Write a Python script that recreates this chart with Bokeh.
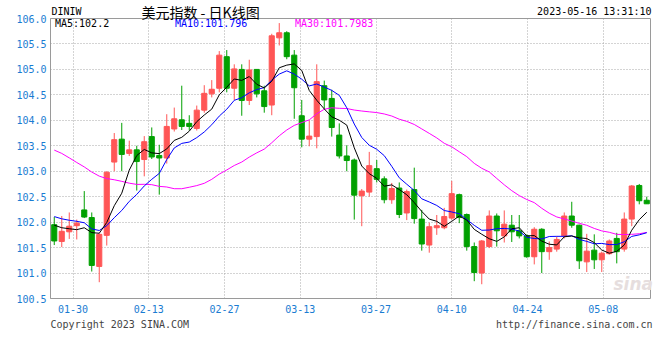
import pandas as pd
from bokeh.plotting import figure
from bokeh.models import Range1d, FixedTicker, Label, ColumnDataSource, LinearAxis
from bokeh.core.properties import value
from bokeh.embed import file_html
from bokeh.resources import INLINE

# ---------------- data ----------------
x_tick_labels = ["01-30", "02-13", "02-27", "03-13", "03-27", "04-10", "04-24", "05-08"]
y_tick_values = [100.5, 101.0, 101.5, 102.0, 102.5, 103.0, 103.5, 104.0, 104.5, 105.0, 105.5, 106.0]
y_tick_labels = ["100.5", "101.0", "101.5", "102.0", "102.5", "103.0", "103.5", "104.0",
                 "104.5", "105.0", "105.5", "106.0"]

open_ = [101.95, 101.62, 101.81, 101.93, 102.24, 102.09, 101.13, 101.74, 103.18, 103.63,
         103.35, 103.42, 103.23, 103.68, 103.31, 103.26, 103.83, 104.01, 103.94, 103.84,
         104.20, 104.52, 104.63, 105.25, 104.63, 105.00, 104.39, 105.00, 104.58, 104.30,
         105.62, 105.72, 105.28, 104.09, 103.63, 103.68, 104.68, 104.43, 103.71, 103.30,
         103.22, 102.52, 102.59, 103.05, 102.85, 102.44, 102.67, 102.18, 102.64, 102.06,
         101.55, 101.89, 101.89, 102.08, 102.54, 102.15, 101.52, 101.00, 101.52, 102.12,
         101.73, 101.94, 101.83, 101.73, 101.32, 101.86, 101.42, 101.47, 101.73, 102.12,
         101.94, 101.22, 101.45, 101.26, 101.38, 101.68, 101.47, 102.06, 102.72, 102.43]
high = [102.10, 102.12, 102.19, 102.05, 102.61, 102.19, 101.78, 103.00, 103.75, 103.95,
        103.60, 103.50, 103.69, 103.86, 103.52, 104.12, 104.25, 104.68, 104.10, 104.29,
        104.69, 104.79, 105.36, 105.38, 105.10, 105.10, 105.19, 105.00, 104.68, 105.70,
        105.91, 105.75, 105.38, 104.40, 104.00, 105.10, 104.78, 104.60, 103.94, 103.51,
        103.25, 102.65, 103.38, 103.22, 102.90, 102.77, 102.78, 102.64, 103.07, 102.24,
        101.99, 102.14, 102.28, 102.81, 102.56, 102.17, 101.60, 101.65, 102.23, 102.17,
        102.23, 102.14, 102.14, 101.76, 101.90, 101.88, 101.62, 101.72, 102.19, 102.40,
        101.95, 101.77, 101.76, 101.42, 101.66, 101.79, 102.19, 102.73, 102.75, 102.50]
low = [101.55, 101.51, 101.67, 101.66, 102.08, 101.03, 100.82, 101.54, 103.00, 103.00,
       103.30, 102.62, 102.90, 103.24, 102.54, 103.15, 103.78, 103.81, 103.80, 103.80,
       104.15, 104.45, 104.55, 104.55, 104.40, 104.09, 104.30, 104.45, 104.15, 104.10,
       105.47, 105.20, 104.03, 103.47, 103.49, 103.45, 104.22, 103.68, 103.25, 103.00,
       102.05, 101.92, 102.50, 102.78, 102.37, 102.36, 102.08, 102.04, 101.97, 101.44,
       101.40, 101.75, 101.86, 102.05, 101.98, 101.44, 100.84, 100.78, 101.49, 101.52,
       101.60, 101.61, 101.68, 101.30, 101.17, 101.00, 101.26, 101.42, 101.68, 101.89,
       101.08, 101.02, 101.08, 101.02, 101.36, 101.19, 101.42, 101.92, 102.35, 102.36]
close = [101.63, 101.82, 101.92, 101.98, 102.10, 101.15, 101.76, 102.98, 103.62, 103.33,
         103.42, 103.19, 103.58, 103.28, 103.26, 103.88, 104.03, 103.88, 103.88, 104.20,
         104.53, 104.61, 105.28, 104.63, 105.01, 104.39, 104.99, 104.52, 104.27, 105.66,
         105.72, 105.25, 104.64, 103.63, 103.69, 104.76, 104.40, 103.86, 103.30, 103.21,
         102.53, 102.61, 103.11, 102.84, 102.44, 102.66, 102.15, 102.60, 102.07, 101.57,
         101.91, 101.93, 102.11, 102.56, 102.09, 101.52, 101.01, 101.63, 102.12, 101.83,
         101.96, 101.81, 101.73, 101.32, 101.86, 101.42, 101.50, 101.66, 102.12, 101.94,
         101.24, 101.43, 101.26, 101.39, 101.63, 101.42, 102.06, 102.71, 102.42, 102.36]
# closes before the visible window (estimated from where the MA lines start)
prior_close = [103.77, 104.55, 104.70, 104.71, 104.16, 104.19, 104.42, 104.31, 104.27, 104.49,
               103.92, 103.52, 103.49, 104.26, 104.25, 105.04, 103.89, 103.01, 103.23, 103.18,
               102.26, 102.20, 102.19, 102.38, 102.36, 102.07, 102.02, 102.07, 101.91]

ma_texts = ["MA5:102.2", "MA10:101.796", "MA30:101.7983"]
header_texts = ["DINIW", "美元指数 - 日K线图", "2023-05-16 13:31:10"]
footer_texts = ["Copyright 2023 SINA.COM", "http://finance.sina.com.cn"]

# ---------------- derived ----------------
n = len(close)
idx = list(range(n))
allc = pd.Series(prior_close + close)
ma5 = allc.rolling(5).mean().iloc[-n:].tolist()
ma10 = allc.rolling(10).mean().iloc[-n:].tolist()
ma30 = allc.rolling(30).mean().iloc[-n:].tolist()

RED = "#ff5656"
GREEN = "#00a000"
colors = [RED if c >= o else GREEN for o, c in zip(open_, close)]
src = ColumnDataSource(dict(
    x=idx, o=open_, h=high, l=low, c=close,
    top=[max(o, c) for o, c in zip(open_, close)],
    bottom=[min(o, c) for o, c in zip(open_, close)],
    color=colors))

MONO = "DejaVu Sans Mono"
BLUE_TXT = "#1a7cd2"

# chart box: x -0.5..79.5 (7.5 px / candle), y 100.5..106.0 (280 px)
PXU = 280 / 5.5
X0, X1 = -0.5, 79.5
Y0, Y1 = 100.5, 106.0

p = figure(width=660, height=340,
           x_range=Range1d(X0 - 1 / 7.5, X1 + 3 / 7.5),
           y_range=Range1d(Y0 - 1 / PXU, Y1 + 18 / PXU),
           output_backend="svg", toolbar_location=None,
           min_border_left=49, min_border_right=7, min_border_top=0, min_border_bottom=41)
p.background_fill_color = "white"
p.border_fill_color = "white"
p.outline_line_color = None

# axes
x_tick_pos = [2.5, 12.6, 22.7, 32.8, 42.9, 53.0, 63.1, 73.2]
p.xaxis.ticker = FixedTicker(ticks=x_tick_pos)
p.xaxis.major_label_overrides = {t: s for t, s in zip(x_tick_pos, x_tick_labels)}
p.yaxis.ticker = FixedTicker(ticks=y_tick_values)
p.yaxis.major_label_overrides = {t: s for t, s in zip(y_tick_values, y_tick_labels)}

footer_pos = [8.74, 69.33]
fax = LinearAxis(ticker=FixedTicker(ticks=footer_pos),
                 major_label_overrides={t: s for t, s in zip(footer_pos, footer_texts)})
p.add_layout(fax, "below")

for ax in (p.xaxis[0], p.yaxis[0], fax):
    ax.axis_line_color = None
    ax.major_tick_line_color = None
    ax.minor_tick_line_color = None
    ax.major_tick_out = 0
    ax.major_tick_in = 0
    ax.major_label_text_font = MONO
    ax.major_label_text_font_size = "10px"
    ax.major_label_text_color = BLUE_TXT
fax.major_label_text_color = "#444444"
p.xaxis[0].major_label_standoff = 5
p.yaxis[0].major_label_standoff = 3
fax.major_label_standoff = 3

for g in (p.xgrid, p.ygrid):
    g.grid_line_color = "#a8a8a8"
    g.grid_line_dash = "1 2"
    g.grid_line_width = 1
p.xgrid.cross_bounds = (Y0, Y1)
p.ygrid.cross_bounds = (X0, X1)

# chart box border
p.quad(left=[X0], right=[X1], bottom=[Y0], top=[Y1], fill_color=None,
       line_color="#9a9a9a", line_width=1)

# watermark
p.text(x=[77.2], y=[100.58], text=["sina"], text_font=value("DejaVu Sans"),
       text_font_size="17px", text_font_style="bold italic", text_color="#e6dede",
       text_align="center", text_baseline="bottom")

# candles
p.segment(x0="x", y0="l", x1="x", y1="h", line_color="color", line_width=1, source=src)
p.vbar(x="x", top="top", bottom="bottom", width=0.68, fill_color="color",
       line_color="color", line_width=1, source=src)

# moving averages
p.line(idx, ma30, line_color="#ff00ff", line_width=1)
p.line(idx, ma10, line_color="#0000ff", line_width=1)
p.line(idx, ma5, line_color="#000000", line_width=1)

# texts
def lab(x, y, t, color="black", size="10px", font=MONO, align="left"):
    p.add_layout(Label(x=x, y=y, text=t, text_color=color, text_font=font,
                       text_font_size=size, text_align=align, text_baseline="middle"))

yh = Y1 + 7 / PXU      # header line
ym = Y1 - 5 / PXU      # MA legend line
lab(-0.37, yh, header_texts[0])
lab(11.63, yh, header_texts[1], size="14px", font="Noto Sans CJK SC")
lab(79.63, yh, header_texts[2], align="right")
lab(0.1, ym, ma_texts[0], color="black")
lab(16.1, ym, ma_texts[1], color="#0000ff")
lab(32.1, ym, ma_texts[2], color="#ff00ff")

open("out.html", "w").write(file_html(p, INLINE))
